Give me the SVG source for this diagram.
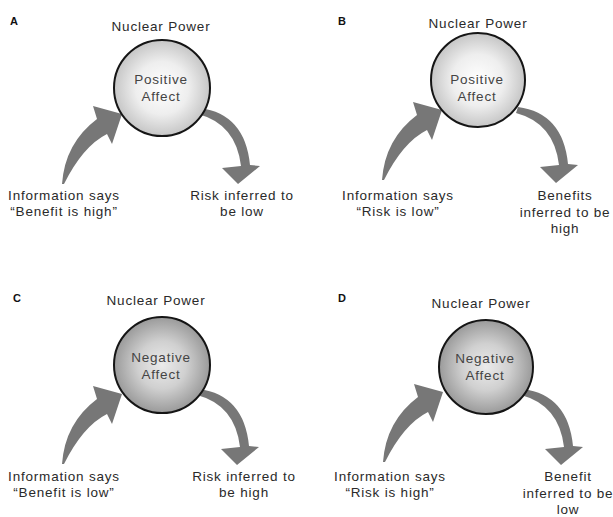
<svg xmlns="http://www.w3.org/2000/svg" width="613" height="517" viewBox="0 0 613 517">
<defs>
<radialGradient id="gPos" cx="50%" cy="50%" r="50%">
<stop offset="0%" stop-color="#ffffff"/>
<stop offset="55%" stop-color="#eeeeee"/>
<stop offset="100%" stop-color="#c6c6c6"/>
</radialGradient>
<radialGradient id="gNeg" cx="50%" cy="50%" r="50%">
<stop offset="0%" stop-color="#ebebeb"/>
<stop offset="50%" stop-color="#d0d0d0"/>
<stop offset="100%" stop-color="#9a9a9a"/>
</radialGradient>
<path id="arrL" d="M62,184 Q65,143 97,119 L93,106 L122,114 L112,144 L107,134 Q83,146 64,184 Z"/>
<path id="arrR" d="M200,108 Q245,114 250,165 L260,166 L238,184 L222,168 L241,166 Q236,124 198,114 Z"/>
</defs>
<style>
text{font-family:"Liberation Sans",Arial,sans-serif;fill:#2a2a2a}
.t{font-size:13.5px;letter-spacing:0.8px;text-anchor:middle}
.c{font-size:13.5px;letter-spacing:0.8px;text-anchor:middle;fill:#444}
.p{font-size:11px;font-weight:bold;fill:#111}
.circ{stroke:#151515;stroke-width:2}
.arrow{fill:#777777}
</style>
<rect width="613" height="517" fill="#ffffff"/>

<g id="connectors">
<use href="#arrL" class="arrow"/>
<use href="#arrR" class="arrow"/>
<use href="#arrL" class="arrow" transform="translate(320,-4)"/>
<use href="#arrR" class="arrow" transform="translate(318,-1)"/>
<use href="#arrL" class="arrow" transform="translate(0,280)"/>
<use href="#arrR" class="arrow" transform="translate(-1,281)"/>
<use href="#arrL" class="arrow" transform="translate(321,278)"/>
<use href="#arrR" class="arrow" transform="translate(323,281)"/>
</g>

<g id="panelA">
<text class="p" x="10" y="25">A</text>
<text class="t" x="161" y="31">Nuclear Power</text>
<g id="nodeA">
<circle class="circ" cx="162" cy="88" r="48" fill="url(#gPos)"/>
<text class="c" x="161" y="84">Positive</text>
<text class="c" x="161" y="101">Affect</text>
</g>
<g id="inA"><text class="t" x="64" y="200">Information says</text><text class="t" x="64" y="216">“Benefit is high”</text></g>
<g id="outA"><text class="t" x="242" y="200">Risk inferred to</text><text class="t" x="242" y="216">be low</text></g>
</g>

<g id="panelB">
<text class="p" x="338" y="25">B</text>
<text class="t" x="478" y="27.5">Nuclear Power</text>
<g id="nodeB">
<circle class="circ" cx="478" cy="80" r="47" fill="url(#gPos)"/>
<text class="c" x="477" y="84">Positive</text>
<text class="c" x="477" y="101">Affect</text>
</g>
<g id="inB"><text class="t" x="398" y="200">Information says</text><text class="t" x="398" y="216">“Risk is low”</text></g>
<g id="outB"><text class="t" x="565" y="200">Benefits</text><text class="t" x="565" y="216.5">inferred to be</text><text class="t" x="565" y="232.5">high</text></g>
</g>

<g id="panelC">
<text class="p" x="13" y="302">C</text>
<text class="t" x="156" y="305">Nuclear Power</text>
<g id="nodeC">
<circle class="circ" cx="162" cy="365" r="48" fill="url(#gNeg)"/>
<text class="c" x="161" y="362">Negative</text>
<text class="c" x="161" y="379">Affect</text>
</g>
<g id="inC"><text class="t" x="64" y="481">Information says</text><text class="t" x="64" y="497">“Benefit is low”</text></g>
<g id="outC"><text class="t" x="244" y="481">Risk inferred to</text><text class="t" x="244" y="497">be high</text></g>
</g>

<g id="panelD">
<text class="p" x="338" y="302">D</text>
<text class="t" x="481" y="308">Nuclear Power</text>
<g id="nodeD">
<circle class="circ" cx="486" cy="367" r="47" fill="url(#gNeg)"/>
<text class="c" x="485" y="363">Negative</text>
<text class="c" x="485" y="380">Affect</text>
</g>
<g id="inD"><text class="t" x="390" y="481">Information says</text><text class="t" x="390" y="497">“Risk is high”</text></g>
<g id="outD"><text class="t" x="568" y="481">Benefit</text><text class="t" x="568" y="497.5">inferred to be</text><text class="t" x="568" y="514">low</text></g>
</g>
</svg>
